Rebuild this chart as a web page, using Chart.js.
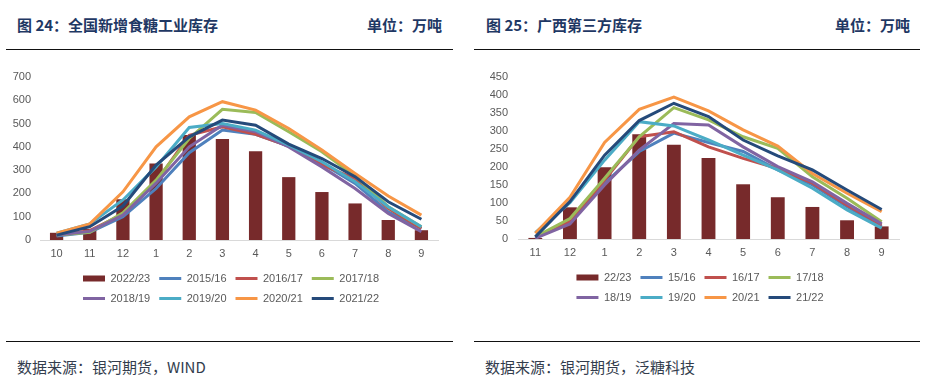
<!DOCTYPE html>
<html>
<head>
<meta charset="utf-8">
<script src="https://cdn.jsdelivr.net/npm/chart.js@4.4.1/dist/chart.umd.min.js"></script>
<style>
  body { margin: 0; background: #fff; width: 931px; height: 391px; position: relative; overflow: hidden; }
  .title { position: absolute; top: 14px; font: bold 15px "Noto Sans CJK SC", sans-serif; color: #1f3864; }
  .rule { position: absolute; height: 0; border-top: 1.5px solid #111; }
  .src { position: absolute; top: 356px; font: 15px "Noto Sans CJK SC", sans-serif; color: #333d4d; }
  canvas { position: absolute; top: 60px; }
</style>
</head>
<body>
<div class="title" style="left:17px">图 24：全国新增食糖工业库存</div>
<div class="title" style="left:367px">单位：万吨</div>
<div class="rule" style="left:6px;width:447px;top:49px"></div>
<div class="rule" style="left:6px;width:447px;top:341px"></div>
<div class="src" style="left:17px">数据来源：银河期货，WIND</div>

<div class="title" style="left:486px">图 25：广西第三方库存</div>
<div class="title" style="left:835px">单位：万吨</div>
<div class="rule" style="left:474px;width:446px;top:49px"></div>
<div class="rule" style="left:474px;width:446px;top:341px"></div>
<div class="src" style="left:485px">数据来源：银河期货，泛糖科技</div>

<canvas id="left" width="465" height="270" style="left:0"></canvas>
<canvas id="right" width="466" height="270" style="left:465px"></canvas>

<script>
// 图24 全国新增食糖工业库存（万吨）
const leftMonths = ['10', '11', '12', '1', '2', '3', '4', '5', '6', '7', '8', '9'];
const leftNames = ['2022/23', '2015/16', '2016/17', '2017/18', '2018/19', '2019/20', '2020/21', '2021/22'];
const left2022 = [31, 48, 175, 328, 451, 434, 381, 270, 206, 157, 86, 42];
const left2015 = [17, 33, 100, 221, 375, 472, 454, 403, 329, 243, 121, 50];
const left2016 = [21, 40, 111, 250, 450, 486, 454, 403, 322, 264, 136, 50];
const left2017 = [21, 33, 117, 257, 436, 561, 548, 465, 379, 275, 143, 57];
const left2018 = [21, 37, 107, 244, 400, 493, 465, 400, 314, 221, 114, 36];
const left2019 = [29, 69, 172, 314, 483, 500, 472, 407, 336, 250, 143, 57];
const left2020 = [29, 69, 207, 400, 529, 594, 558, 479, 386, 286, 189, 107];
const left2021 = [21, 57, 146, 322, 443, 515, 493, 412, 350, 272, 164, 89];
const leftTicks = { max: 700, step: 100 };

// 图25 广西第三方库存（万吨）
const rightMonths = ['11', '12', '1', '2', '3', '4', '5', '6', '7', '8', '9'];
const rightNames = ['22/23', '15/16', '16/17', '17/18', '18/19', '19/20', '20/21', '21/22'];
const right2022 = [3, 88, 199, 291, 262, 225, 152, 116, 89, 52, 35];
const right2015 = [3, 48, 155, 243, 294, 268, 243, 192, 150, 90, 34];
const right2016 = [6, 48, 164, 284, 298, 256, 224, 196, 155, 94, 39];
const right2017 = [6, 57, 169, 284, 365, 331, 284, 252, 173, 113, 48];
const right2018 = [2, 42, 150, 247, 321, 317, 256, 201, 159, 99, 42];
const right2019 = [18, 101, 219, 326, 314, 275, 233, 192, 141, 81, 30];
const right2020 = [16, 116, 268, 360, 394, 356, 303, 258, 182, 127, 76];
const right2021 = [6, 104, 233, 329, 377, 340, 275, 231, 192, 136, 82];
const rightTicks = { max: 450, step: 50 };

const barColor = '#772a2b';
const lineColors = ['#4f81bd', '#c0504d', '#9bbb59', '#8064a2', '#4bacc6', '#f79646', '#254a7a'];

Chart.defaults.font.family = '"Liberation Sans", Arial, sans-serif';
Chart.defaults.color = '#595959';

// legend rows: keep 4 items per row like the original
const LegendEl = Chart.registry.plugins.get('legend')._element;
const fitRows = LegendEl.prototype._fitRows;
LegendEl.prototype._fitRows = function (...args) {
    const full = this.maxWidth;
    const w = this.chart.$legendBox && this.chart.$legendBox.width;
    if (w) this.maxWidth = Math.min(full, w);
    const h = fitRows.apply(this, args);
    this.maxWidth = full;
    return h;
};

// narrow the legend box so drawing wraps the same way, centred at c
const legendBox = {
    id: 'legendBox',
    afterLayout(chart) {
        const lg = chart.legend, b = chart.$legendBox;
        if (!lg || !b) return;
        lg.left = b.center - b.width / 2;
        lg.right = b.center + b.width / 2;
        lg.width = b.width;
    }
};

function makeChart(id, months, names, bars, lines, ticks, geo) {
    const datasets = [{
        type: 'bar',
        label: names[0],
        data: bars,
        backgroundColor: barColor,
        barPercentage: 0.4,
        categoryPercentage: 1,
        order: 100
    }];
    lines.forEach((d, i) => {
        datasets.push({
            type: 'line',
            label: names[i + 1],
            data: d,
            borderColor: lineColors[i],
            backgroundColor: lineColors[i],
            borderWidth: 3,
            pointRadius: 0,
            tension: 0,
            order: 10 - i
        });
    });

    return new Chart(document.getElementById(id), {
        data: { labels: months, datasets },
        plugins: [{ id: 'legendSize', beforeInit(chart) { chart.$legendBox = geo.legend; } }, legendBox],
        options: {
            responsive: false,
            animation: false,
            devicePixelRatio: 1,
            layout: { padding: { top: 17, left: 0, right: geo.right, bottom: geo.bottom } },
            scales: {
                x: {
                    offset: true,
                    grid: { display: false, drawTicks: false },
                    border: { color: '#d9d9d9', width: 1 },
                    ticks: { padding: 7, font: { size: 11 } },
                    afterFit(s) { s.height = geo.xh; }
                },
                y: {
                    min: 0,
                    max: ticks.max,
                    grid: { display: false, drawTicks: false },
                    border: { display: false },
                    ticks: { stepSize: ticks.step, padding: geo.ypad, font: { size: 11 } },
                    afterFit(s) { s.width = geo.yw; }
                }
            },
            plugins: {
                tooltip: { enabled: false },
                legend: {
                    position: 'bottom',
                    labels: {
                        usePointStyle: true,
                        pointStyle: 'line',
                        pointStyleWidth: 22,
                        padding: 9,
                        font: { size: 11 },
                        color: '#595959',
                        sort: (a, b) => a.datasetIndex - b.datasetIndex,
                        generateLabels(chart) {
                            const items = Chart.defaults.plugins.legend.labels.generateLabels(chart);
                            items.forEach(it => {
                                const ds = chart.data.datasets[it.datasetIndex];
                                it.pointStyle = 'line';
                                it.strokeStyle = ds.type === 'bar' ? barColor : ds.borderColor;
                                it.lineWidth = ds.type === 'bar' ? 6 : 3;
                            });
                            return items;
                        }
                    }
                }
            }
        }
    });
}

makeChart('left', leftMonths, leftNames, left2022,
    [left2015, left2016, left2017, left2018, left2019, left2020, left2021],
    leftTicks, { right: 27, bottom: 16, xh: 24, yw: 40, ypad: 9, legend: { width: 340, center: 231 } });

makeChart('right', rightMonths, rightNames, right2022,
    [right2015, right2016, right2017, right2018, right2019, right2020, right2021],
    rightTicks, { right: 32, bottom: 17, xh: 24, yw: 53, ypad: 10, legend: { width: 285, center: 235 } });
</script>
</body>
</html>
